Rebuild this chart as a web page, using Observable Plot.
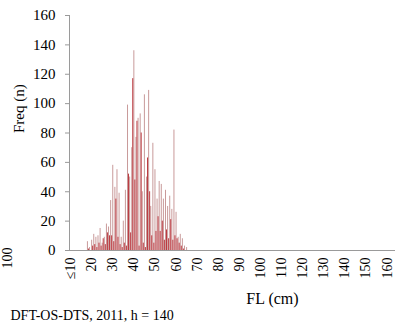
<!DOCTYPE html>
<html>
<head>
<meta charset="utf-8">
<script src="https://cdn.jsdelivr.net/npm/d3@7"></script>
<script src="https://cdn.jsdelivr.net/npm/@observablehq/plot@0.6"></script>
<style>
  html, body { margin: 0; padding: 0; background: #fff; }
  #chart svg { display: block; }
  #chart svg, #chart svg text { font-family: "Liberation Serif", "DejaVu Serif", serif !important; }
</style>
</head>
<body>
<div id="chart"></div>
<script>
// Fork length classes (cm)
const lengths = [17,18,19,20,21,22,23,24,25,26,27,28,29,30,31,32,33,34,35,36,37,38,39,40,41,42,43,44,45,46,47,48,49,50,51,52,53,54,55,56,57,58,59,60,61,62,63,64,65];
// Series 1 (light bars)
const seriesLight = [0,6,2,7,11,9,10,15,5,9,18,16,34,58,43,55,39,9,20,41,99,50,70,136,77,90,93,40,106,50,109,30,73,55,35,47,45,35,41,30,37,28,82,26,9,11,8,3,2];
// Series 2 (red bars)
const seriesRed = [0,1,0,3,4,2,5,3,8,4,12,10,10,6,35,9,4,2,5,3,52,12,117,48,88,3,80,5,2,63,40,10,5,13,23,13,20,7,14,8,21,7,10,8,5,3,1,0,0];
// Axis ticks
const xTicks = [10,20,30,40,50,60,70,80,90,100,110,120,130,140,150,160];
const xTickLabels = ["≤10","20","30","40","50","60","70","80","90","100","110","120","130","140","150","160"];
const yTicks = [0,20,40,60,80,100,120,140,160];

const light = lengths.map((l, i) => ({length: l, freq: seriesLight[i]}));
const red = lengths.map((l, i) => ({length: l, freq: seriesRed[i]}));

const chart = Plot.plot({
  width: 395,
  height: 327,
  marginLeft: 69,
  marginRight: 0,
  marginTop: 15,
  marginBottom: 77,
  style: {color: "#000", background: "#fff"},
  x: {type: "linear", domain: [9.5, 164]},
  y: {domain: [0, 160]},
  marks: [
    Plot.ruleX(light, {x: "length", y1: 0, y2: "freq", stroke: "#c99a9a", strokeWidth: 1}),
    Plot.ruleX(red, {x: "length", y1: 0, y2: "freq", stroke: "#bb3a40", strokeWidth: 1, dx: 1}),
    Plot.frame({anchor: "left", stroke: "#9a9a9a"}),
    Plot.frame({anchor: "bottom", stroke: "#9a9a9a"}),
    Plot.axisY({ticks: yTicks, tickSize: 4, tickPadding: 10, fontSize: 15, label: null, stroke: "#9a9a9a"}),
    Plot.axisX({ticks: xTicks, tickFormat: (d) => xTickLabels[xTicks.indexOf(d)], tickRotate: -90, tickSize: 0, tickPadding: 7, fontSize: 14, label: null}),
    Plot.text(["Freq (n)"], {frameAnchor: "left", dx: -50, rotate: -90, fontSize: 15}),
    Plot.text(["FL (cm)"], {frameAnchor: "bottom", dx: 40, dy: 53, fontSize: 16}),
    Plot.text(["DFT-OS-DTS, 2011, h = 140"], {frameAnchor: "bottom-left", dx: -59, dy: 60, textAnchor: "start", lineAnchor: "top", fontSize: 14}),
    Plot.text(["100"], {frameAnchor: "bottom-left", dx: -58, dy: 18, rotate: -90, fontSize: 14})
  ]
});
document.getElementById("chart").appendChild(chart);
</script>
</body>
</html>
